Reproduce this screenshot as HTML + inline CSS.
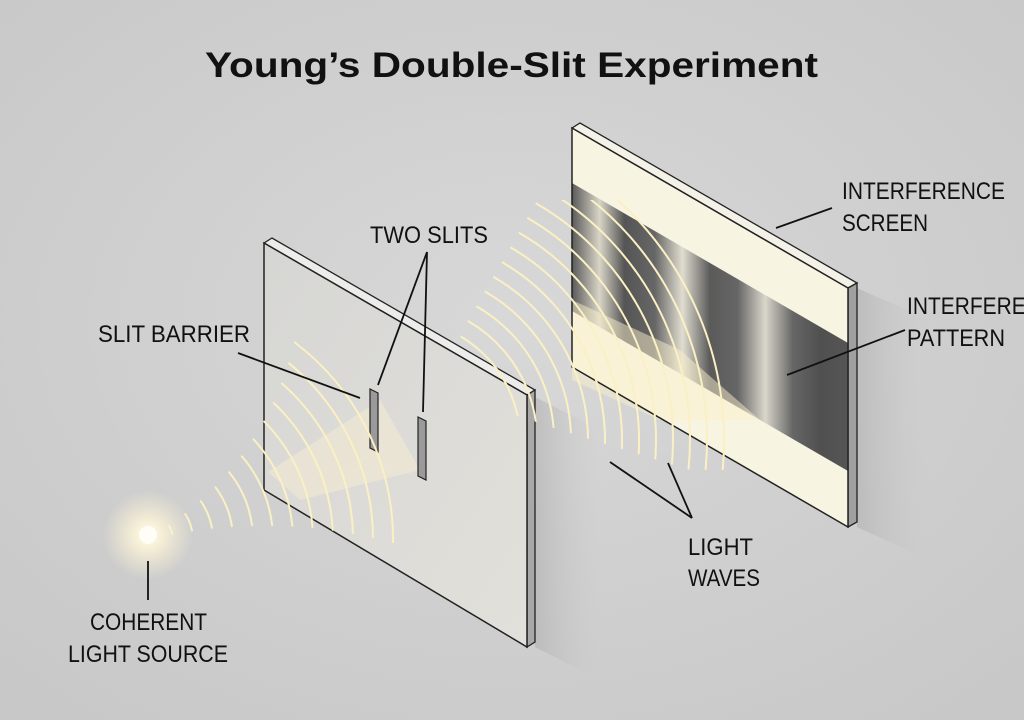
<!DOCTYPE html>
<html><head><meta charset="utf-8"><style>
html,body{margin:0;padding:0;}
body{width:1024px;height:720px;overflow:hidden;background:#d0d0d0;}
svg{display:block}
text{font-family:"Liberation Sans",sans-serif;fill:#111;}
.lb{font-size:24px}
</style></head><body>
<svg id="s" width="1024" height="720" viewBox="0 0 1024 720" xmlns="http://www.w3.org/2000/svg">
<defs>
<radialGradient id="bg" cx="50%" cy="45%" r="70%"><stop offset="0" stop-color="#d8d8d8"/><stop offset="1" stop-color="#c8c8c8"/></radialGradient>
<radialGradient id="glow"><stop offset="0" stop-color="#fffdf2"/><stop offset="0.3" stop-color="#fbf3d8" stop-opacity="0.9"/><stop offset="1" stop-color="#f5ecd0" stop-opacity="0"/></radialGradient>
<linearGradient id="stripes" x1="572" y1="0" x2="848" y2="0" gradientUnits="userSpaceOnUse">
<stop offset="0" stop-color="#5a5a5a"/><stop offset="0.1" stop-color="#d8d4c6"/><stop offset="0.19" stop-color="#555"/>
<stop offset="0.3" stop-color="#666"/><stop offset="0.4" stop-color="#e0ddd0"/><stop offset="0.5" stop-color="#5a5a5a"/>
<stop offset="0.6" stop-color="#666"/><stop offset="0.7" stop-color="#d9d6ca"/><stop offset="0.8" stop-color="#666"/>
<stop offset="0.9" stop-color="#505050"/><stop offset="1" stop-color="#555"/></linearGradient>
<linearGradient id="bar" x1="0" y1="0" x2="1" y2="1"><stop offset="0" stop-color="#d6d6d4"/><stop offset="1" stop-color="#e2e0da"/></linearGradient>
<linearGradient id="sh" x1="0" y1="0" x2="1" y2="0"><stop offset="0" stop-color="#b0b0b0"/><stop offset="1" stop-color="#c8c8c8" stop-opacity="0"/></linearGradient>
<clipPath id="gap"><polygon points="440,200 760,200 760,470 690,470 560,430 470,400"/></clipPath>
</defs>
<rect width="1024" height="720" fill="url(#bg)"/>
<text x="205" y="77" textLength="613" lengthAdjust="spacingAndGlyphs" style="font-size:35px;font-weight:bold">Young’s Double-Slit Experiment</text>

<polygon points="535,397 600,430 600,680 535,647" fill="url(#sh)" opacity="0.6"/>
<polygon points="857,288 930,320 930,560 857,527" fill="url(#sh)" opacity="0.6"/>

<!-- barrier -->
<polygon points="264,243 272,238 535,390 527,395" fill="#ececea" stroke="#222" stroke-width="1.3"/>
<polygon points="527,395 535,390 535,642 527,647" fill="#a8a8a8" stroke="#222" stroke-width="1.3"/>
<polygon points="264,243 527,395 527,647 264,490" fill="url(#bar)" stroke="#222" stroke-width="1.5"/>
<polygon points="268,472 380,400 420,470 300,500" fill="#f1ead2" opacity="0.6"/>
<polygon points="370,389 378,393 378,452 370,448" fill="#9a9a9a" stroke="#222" stroke-width="1.2"/>
<polygon points="418,417 426,421 426,480 418,476" fill="#9a9a9a" stroke="#222" stroke-width="1.2"/>

<!-- screen -->
<polygon points="572,128 580,123 857,283 848,288" fill="#f4f2e8" stroke="#222" stroke-width="1.3"/>
<polygon points="848,288 857,283 857,522 848,527" fill="#a0a0a0" stroke="#222" stroke-width="1.3"/>
<polygon points="572,128 848,288 848,527 572,367" fill="#f8f4e2"/>
<polygon points="572,183 848,343 848,471 572,311" fill="url(#stripes)"/>
<polygon points="572,300 680,350 760,420 660,420 572,380" fill="#f9f0cc" opacity="0.5"/>
<polygon points="572,128 848,288 848,527 572,367" fill="none" stroke="#222" stroke-width="1.5"/>

<g id="waves" fill="none" stroke="#faf0c4" stroke-width="2" stroke-linecap="round"></g>
<circle cx="148" cy="535" r="45" fill="url(#glow)"/>
<circle cx="148" cy="535" r="9" fill="#fffef6"/>

<g stroke="#111" stroke-width="1.8">
<line x1="427" y1="252" x2="378" y2="385"/>
<line x1="427" y1="252" x2="423" y2="412"/>
<line x1="238" y1="353" x2="360" y2="398"/>
<line x1="776" y1="228" x2="832" y2="208"/>
<line x1="787" y1="375" x2="905" y2="330"/>
<line x1="610" y1="462" x2="692" y2="518"/>
<line x1="668" y1="463" x2="692" y2="518"/>
<line x1="148" y1="561" x2="148" y2="600"/>
</g>
<text class="lb" x="370" y="243" textLength="118" lengthAdjust="spacingAndGlyphs">TWO SLITS</text>
<text class="lb" x="98" y="342" textLength="152" lengthAdjust="spacingAndGlyphs">SLIT BARRIER</text>
<text class="lb" x="842" y="199" textLength="163" lengthAdjust="spacingAndGlyphs">INTERFERENCE</text>
<text class="lb" x="842" y="231" textLength="86" lengthAdjust="spacingAndGlyphs">SCREEN</text>
<text class="lb" x="907" y="314" textLength="163" lengthAdjust="spacingAndGlyphs">INTERFERENCE</text>
<text class="lb" x="907" y="346" textLength="98" lengthAdjust="spacingAndGlyphs">PATTERN</text>
<text class="lb" x="688" y="555" textLength="65" lengthAdjust="spacingAndGlyphs">LIGHT</text>
<text class="lb" x="688" y="586" textLength="72" lengthAdjust="spacingAndGlyphs">WAVES</text>
<text class="lb" x="90" y="630" textLength="117" lengthAdjust="spacingAndGlyphs">COHERENT</text>
<text class="lb" x="68" y="662" textLength="160" lengthAdjust="spacingAndGlyphs">LIGHT SOURCE</text>
</svg>
<script>
var g=document.getElementById('waves'),d='',d2='';
function arc(cx,cy,r,a1,a2){var p=Math.PI/180;var x1=cx+r*Math.cos(a1*p),y1=cy+r*Math.sin(a1*p),x2=cx+r*Math.cos(a2*p),y2=cy+r*Math.sin(a2*p);return 'M'+x1.toFixed(1)+' '+y1.toFixed(1)+'A'+r+' '+r+' 0 0 1 '+x2.toFixed(1)+' '+y2.toFixed(1);}
for(var r=28;r<=250;r+=20){var sp=6+r*0.1;d+=arc(145,540,r,-22-sp,-18+sp*0.6);}
for(var r=120;r<=340;r+=17){d2+=arc(400,440,r,-60,15);}
g.innerHTML='<path d="'+d+'"/><path clip-path="url(#gap)" d="'+d2+'"/>';
</script>
</body></html>
